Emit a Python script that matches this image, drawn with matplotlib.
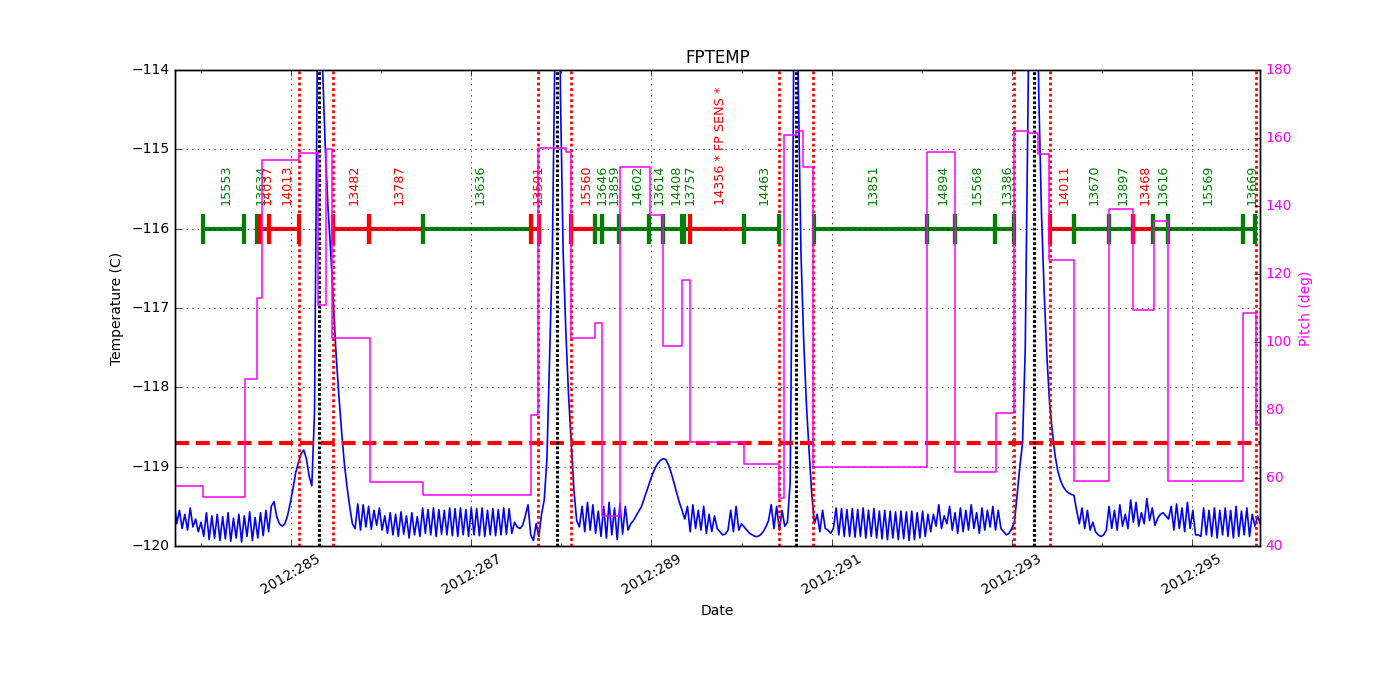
import numpy as np
import matplotlib
matplotlib.use("Agg")
import matplotlib.pyplot as plt

# FPTEMP samples, one every 0.03 day starting at day 283.70
temp_t0 = 283.70
temp_dt = 0.03
temp_vals = [
    -119.42, -119.72, -119.55, -119.78, -119.60, -119.80, -119.52, -119.76, -119.66, -119.82,
    -119.70, -119.88, -119.58, -119.92, -119.62, -119.90, -119.60, -119.93, -119.63, -119.91,
    -119.58, -119.94, -119.65, -119.90, -119.60, -119.95, -119.62, -119.88, -119.57, -119.93,
    -119.64, -119.90, -119.58, -119.87, -119.55, -119.82, -119.50, -119.44, -119.63, -119.72,
    -119.75, -119.72, -119.62, -119.46, -119.28, -119.08, -118.95, -118.84, -118.79, -118.90,
    -119.12, -119.24, -118.30, -113.80, -110.00, -114.00, -115.00, -115.75, -116.30, -116.95,
    -117.60, -118.10, -118.55, -118.95, -119.25, -119.50, -119.72, -119.78, -119.47, -119.80,
    -119.48, -119.76, -119.50, -119.79, -119.55, -119.74, -119.52, -119.80, -119.62, -119.84,
    -119.58, -119.86, -119.60, -119.88, -119.57, -119.85, -119.62, -119.90, -119.58, -119.86,
    -119.63, -119.88, -119.52, -119.84, -119.54, -119.86, -119.52, -119.88, -119.54, -119.85,
    -119.55, -119.86, -119.52, -119.87, -119.53, -119.88, -119.52, -119.86, -119.54, -119.88,
    -119.52, -119.86, -119.53, -119.87, -119.52, -119.88, -119.55, -119.86, -119.53, -119.87,
    -119.54, -119.86, -119.52, -119.85, -119.53, -119.84, -119.70, -119.76, -119.78, -119.74,
    -119.62, -119.48, -119.86, -119.93, -119.72, -119.88, -119.60, -119.42, -118.90, -117.60,
    -116.30, -113.60, -110.00, -114.30, -116.30, -117.30, -118.10, -118.70, -119.30, -119.68,
    -119.76, -119.50, -119.82, -119.45, -119.80, -119.48, -119.84, -119.56, -119.88, -119.50,
    -119.90, -119.45, -119.86, -119.52, -119.92, -119.46, -119.85, -119.50, -119.80, -119.72,
    -119.68, -119.62, -119.56, -119.50, -119.40, -119.30, -119.20, -119.10, -119.02, -118.96,
    -118.92, -118.90, -118.91, -118.98, -119.08, -119.20, -119.33, -119.45, -119.55, -119.66,
    -119.50, -119.82, -119.48, -119.78, -119.55, -119.80, -119.50, -119.84, -119.60, -119.82,
    -119.62, -119.78, -119.82, -119.86, -119.85, -119.80, -119.55, -119.82, -119.50, -119.80,
    -119.72, -119.76, -119.80, -119.84, -119.86, -119.88, -119.88, -119.86, -119.82, -119.76,
    -119.68, -119.48, -119.78, -119.50, -119.80, -119.55, -119.75, -119.70, -119.20, -115.50,
    -110.00, -114.20, -116.30, -117.40, -118.20, -118.80, -119.35, -119.72, -119.60, -119.82,
    -119.55, -119.78, -119.80, -119.84, -119.78, -119.52, -119.86, -119.53, -119.88, -119.54,
    -119.88, -119.53, -119.89, -119.54, -119.88, -119.52, -119.90, -119.55, -119.88, -119.53,
    -119.90, -119.56, -119.91, -119.55, -119.92, -119.56, -119.90, -119.57, -119.92, -119.56,
    -119.91, -119.57, -119.93, -119.56, -119.92, -119.58, -119.90, -119.56, -119.88, -119.60,
    -119.82, -119.60, -119.75, -119.48, -119.78, -119.62, -119.72, -119.50, -119.80, -119.58,
    -119.84, -119.52, -119.82, -119.55, -119.80, -119.48, -119.78, -119.58, -119.84, -119.52,
    -119.80, -119.55, -119.76, -119.50, -119.80, -119.55, -119.78, -119.82, -119.86, -119.84,
    -119.78, -119.70, -119.35, -119.00, -118.70, -117.50, -114.50, -111.00, -108.00, -111.50,
    -114.30, -115.80, -116.80, -117.60, -118.20, -118.55, -118.85, -119.05, -119.17, -119.25,
    -119.30, -119.33, -119.35, -119.36, -119.55, -119.72, -119.52, -119.78, -119.55, -119.80,
    -119.70, -119.82, -119.86, -119.88, -119.86, -119.80, -119.50, -119.78, -119.55, -119.80,
    -119.48, -119.75, -119.60, -119.78, -119.42, -119.70, -119.45, -119.75, -119.58, -119.72,
    -119.40, -119.68, -119.52, -119.74, -119.65, -119.60, -119.58, -119.62, -119.66, -119.50,
    -119.80, -119.47, -119.78, -119.52, -119.82, -119.45, -119.78, -119.55, -119.86, -119.86,
    -119.88, -119.52, -119.86, -119.55, -119.88, -119.52, -119.90, -119.55, -119.86, -119.52,
    -119.88, -119.55, -119.90, -119.50, -119.88, -119.56, -119.86, -119.52, -119.88, -119.60,
    -119.75, -119.62, -119.72,
]

# pitch (step changes)
pitch_t = [283.711, 284.022, 284.489, 284.622, 284.678, 285.089, 285.300, 285.389,
           285.456, 285.878, 286.467, 287.667, 287.744, 288.056, 288.111, 288.378,
           288.456, 288.656, 288.989, 289.133, 289.344, 289.433, 290.033, 290.411,
           290.467, 290.600, 290.678, 290.789, 292.056, 292.367, 292.822, 293.022,
           293.178, 293.289, 293.411, 293.689, 294.078, 294.344, 294.578, 294.733,
           295.567, 295.711, 295.760]
pitch_v = [57.6, 54.4, 89.1, 112.9, 153.5, 155.6, 110.9, 156.8,
           101.2, 58.8, 55.0, 78.5, 157.1, 156.0, 101.2, 105.6,
           48.8, 151.5, 137.4, 98.8, 118.2, 70.6, 64.1, 54.1,
           160.9, 162.1, 151.5, 63.2, 155.9, 61.8, 79.1, 162.1,
           161.5, 155.3, 124.1, 59.1, 139.1, 109.4, 135.6, 59.1,
           108.5, 75.6, 75.6]

# observations
obs_start = [284.022, 284.622, 284.656, 284.756, 285.467, 285.867, 286.467, 287.667,
             288.111, 288.378, 288.456, 288.644, 288.978, 289.133, 289.367, 289.433,
             290.033, 290.800, 292.056, 292.367, 292.811, 293.422, 293.689, 294.078,
             294.344, 294.567, 294.733, 295.567]
obs_stop = [284.478, 284.656, 284.756, 285.089, 285.867, 286.467, 287.667, 287.756,
            288.378, 288.456, 288.644, 288.978, 289.133, 289.344, 289.433, 290.033,
            290.411, 292.056, 292.367, 292.811, 293.022, 293.689, 294.078, 294.344,
            294.567, 294.733, 295.567, 295.700]
obs_label = ['15553', '13634', '14037', '14013', '13482', '13787', '13636', '13591',
             '15560', '13646', '13859', '14602', '13614', '14408', '13757',
             '14356 * FP SENS *', '14463', '13851', '14894', '15568', '13386',
             '14011', '13670', '13897', '13468', '13616', '15569', '13669']
obs_hot = [False, False, True, True, True, True, False, True,
           True, False, False, False, False, False, False, True,
           False, False, False, False, False, True, False, False,
           True, False, False, False]

perigee = [285.311, 287.956, 290.600, 293.244]
rad_zone = [285.089, 285.467, 287.744, 288.111, 290.411, 290.789,
            293.022, 293.422, 295.711]
temp_limit = -118.7

major_days = [285, 287, 289, 291, 293, 295]
minor_days = [284, 286, 288, 290, 292, 294]
tick_labels = ['2012:285', '2012:287', '2012:289', '2012:291', '2012:293', '2012:295']

plt.style.use('classic')
plt.rcParams['font.size'] = 10
fig, ax = plt.subplots(figsize=(14, 7), dpi=100, facecolor='white')
fig.subplots_adjust(left=0.125, right=0.9, bottom=0.22, top=0.9)

temp_t = temp_t0 + temp_dt * np.arange(len(temp_vals))
ax.plot(temp_t, temp_vals, color='blue', lw=1.2)
ax.axhline(temp_limit, color='red', lw=3, ls='--', dashes=(10, 5))
for d in rad_zone:
    ax.axvline(d, color='red', lw=2, ls=':', dashes=(2, 2))
for d in perigee:
    ax.axvline(d, color='black', lw=2.2, ls=':', dashes=(2, 1.5))

for s, e, lab, hot in zip(obs_start, obs_stop, obs_label, obs_hot):
    c = 'red' if hot else 'green'
    ax.plot([s, e], [-116, -116], color=c, lw=3, marker='|', ms=22, mew=3)
    ax.text((s + e) / 2 + 0.03, -115.7, lab, rotation=90, ha='center', va='bottom',
            color=c, fontsize=9.2)

ax.set_xlim(283.711, 295.756)
ax.set_ylim(-120, -114)
ax.set_xticks(major_days)
ax.set_xticks(minor_days, minor=True)
ax.set_xticklabels(tick_labels, rotation=30, ha='center')
ax.grid(True, which='major')
ax.set_xlabel('Date')
ax.set_ylabel('Temperature (C)')
ax.set_title('FPTEMP')

ax2 = ax.twinx()
ax2.plot(pitch_t, pitch_v, color='magenta', lw=1.1, drawstyle='steps-post')
ax2.set_ylim(40, 180)
ax2.set_xlim(283.711, 295.756)
ax2.tick_params(axis='y', labelcolor='magenta')
ax2.set_ylabel('Pitch (deg)', color='magenta')

fig.savefig('out.png', dpi=100, facecolor='white')
